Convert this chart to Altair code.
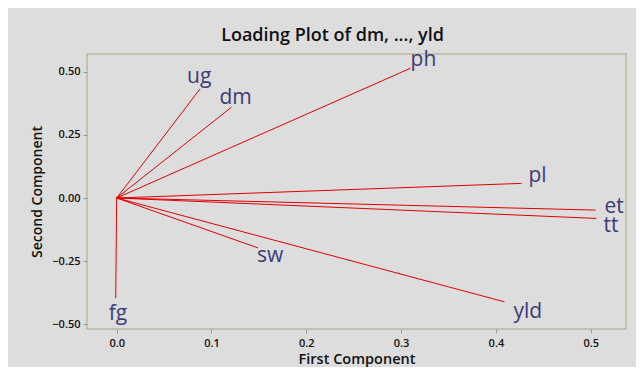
import altair as alt
import pandas as pd

variables = ["dm", "ph", "pl", "et", "tt", "ug", "fg", "sw", "yld"]
first_component = [0.121, 0.310, 0.427, 0.505, 0.506, 0.088, -0.001, 0.149, 0.409]
second_component = [0.360, 0.515, 0.058, -0.048, -0.081, 0.433, -0.397, -0.198, -0.412]

x_ticks = [0.0, 0.1, 0.2, 0.3, 0.4, 0.5]
y_ticks = [-0.50, -0.25, 0.00, 0.25, 0.50]

df = pd.DataFrame({
    "var": variables,
    "pc1": first_component,
    "pc2": second_component,
    "o1": [0.0] * len(variables),
    "o2": [0.0] * len(variables),
})

# label nudges in pixels (style only)
label_nudge = {
    "ug": (-13, -6), "dm": (-12, -3), "ph": (0, -2), "pl": (7, -1),
    "et": (9, 3), "tt": (7, 14), "yld": (9, 16), "sw": (-1, 14), "fg": (-7, 22),
}

BG = "#dddddd"
FONT = "Open Sans"

xs = alt.Scale(domain=[-0.0313, 0.5372], nice=False, zero=False)
ys = alt.Scale(domain=[-0.5198, 0.5714], nice=False, zero=False)

xaxis = alt.Axis(values=x_ticks, format=".1f", title="First Component", grid=False,
                 domain=False, tickColor="#999999", tickSize=4, labelFontSize=11,
                 labelFont=FONT, labelFontWeight=600, labelColor="#111111", labelPadding=4,
                 titleFont=FONT, titleFontSize=14.5, titleFontWeight=600, titleColor="#111111",
                 titlePadding=4)
yaxis = alt.Axis(values=y_ticks, format=".2f", title="Second Component", grid=False,
                 domain=False, tickColor="#999999", tickSize=4, labelFontSize=11,
                 labelFont=FONT, labelFontWeight=600, labelColor="#111111", labelPadding=3,
                 titleFont=FONT, titleFontSize=14, titleFontWeight=600, titleColor="#111111",
                 titlePadding=7)

base = alt.Chart(df)

rules = base.mark_rule(color="#e00000", strokeWidth=1).encode(
    x=alt.X("o1:Q", scale=xs, axis=xaxis),
    y=alt.Y("o2:Q", scale=ys, axis=yaxis),
    x2="pc1:Q",
    y2="pc2:Q",
)

layers = [rules]
for name, (dx, dy) in label_nudge.items():
    layers.append(
        base.transform_filter(alt.datum.var == name).mark_text(
            align="left", baseline="alphabetic", dx=dx, dy=dy,
            font=FONT, fontSize=21, color="#3c3c78",
        ).encode(
            x=alt.X("pc1:Q", scale=xs),
            y=alt.Y("pc2:Q", scale=ys),
            text="var:N",
        )
    )

chart = alt.layer(*layers).properties(
    width=539,
    height=275,
    background=BG,
    autosize=alt.AutoSizeParams(type="none"),
    padding={"left": 79, "top": 46, "right": 10, "bottom": 38},
    title=alt.TitleParams("Loading Plot of dm, ..., yld", font=FONT, fontSize=18,
                          fontWeight=600, color="#111111", anchor="middle", dx=-24,
                          offset=8, dy=4),
).configure_view(
    fill=BG, stroke="#b9b9a0", strokeWidth=1.5,
)

chart.save("out.html", embed_options={"renderer": "svg", "actions": False})
